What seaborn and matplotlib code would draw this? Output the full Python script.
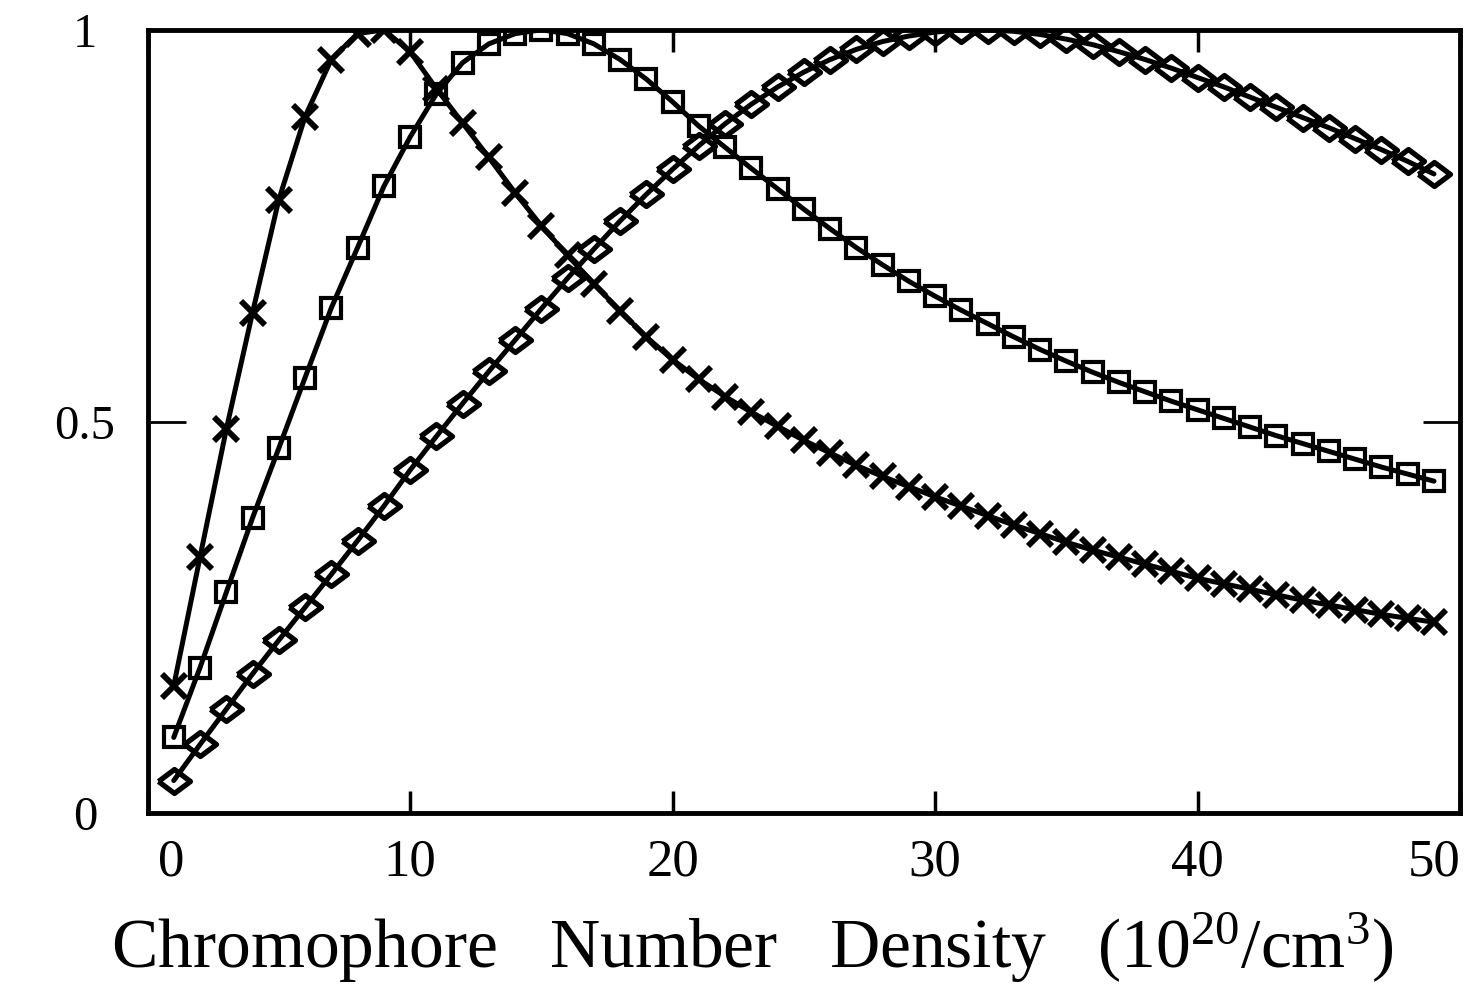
import numpy as np
import pandas as pd
import matplotlib
matplotlib.use("Agg")
import matplotlib.pyplot as plt
import matplotlib.transforms as mtransforms
import seaborn as sns

# ---------------- data ----------------
density = list(range(1, 50))

cross_vals = [0.163, 0.327, 0.490, 0.639, 0.783, 0.889, 0.962, 0.995, 1.000, 0.972,
              0.925, 0.881, 0.837, 0.792, 0.750, 0.712, 0.676, 0.641, 0.608, 0.579,
              0.554, 0.532, 0.512, 0.494, 0.476, 0.460, 0.444, 0.430, 0.417, 0.404,
              0.392, 0.380, 0.368, 0.357, 0.346, 0.336, 0.327, 0.318, 0.309, 0.300,
              0.293, 0.286, 0.279, 0.272, 0.266, 0.260, 0.254, 0.249, 0.244]

square_vals = [0.097, 0.186, 0.282, 0.377, 0.466, 0.556, 0.645, 0.722, 0.800, 0.863,
               0.918, 0.958, 0.982, 0.995, 1.000, 0.995, 0.982, 0.962, 0.937, 0.908,
               0.877, 0.850, 0.823, 0.797, 0.771, 0.746, 0.722, 0.700, 0.679, 0.660,
               0.642, 0.625, 0.608, 0.592, 0.577, 0.563, 0.550, 0.538, 0.526, 0.515,
               0.504, 0.493, 0.482, 0.472, 0.462, 0.452, 0.442, 0.433, 0.424]

diamond_vals = [0.042, 0.088, 0.133, 0.178, 0.221, 0.263, 0.305, 0.348, 0.392, 0.438,
                0.481, 0.523, 0.564, 0.604, 0.644, 0.683, 0.720, 0.756, 0.790, 0.822,
                0.852, 0.880, 0.905, 0.927, 0.946, 0.962, 0.975, 0.985, 0.992, 0.997,
                1.000, 1.000, 0.998, 0.994, 0.988, 0.981, 0.972, 0.962, 0.951, 0.939,
                0.927, 0.914, 0.901, 0.888, 0.875, 0.861, 0.847, 0.832, 0.816]

x_ticks = [0, 10, 20, 30, 40, 50]
x_tick_labels = ["0", "10", "20", "30", "40", "50"]
y_ticks = [0, 0.5, 1]
y_tick_labels = ["0", "0.5", "1"]
x_label = "Chromophore   Number   Density   (10$^{20}$/cm$^{3}$)"

# ---------------- style ----------------
sns.set_theme(style="white")
plt.rcParams['font.family'] = ['Liberation Serif', 'DejaVu Serif']
plt.rcParams['mathtext.fontset'] = 'custom'
plt.rcParams['mathtext.rm'] = 'Liberation Serif'
plt.rcParams['mathtext.it'] = 'Liberation Serif'

fig = plt.figure(figsize=(14.75, 9.92), dpi=100)
ax = fig.add_axes([0.100, 0.180, 0.890, 0.790])

df = pd.DataFrame({"x": density, "cross": cross_vals,
                   "square": square_vals, "diamond": diamond_vals})

diamond_marker = [(-1, 0), (0, 0.75), (1, 0), (0, -0.75), (-1, 0)]

common = dict(color="black", linewidth=3.6, legend=False, ax=ax,
              markerfacecolor="none", markeredgecolor="black")

sns.lineplot(data=df, x="x", y="cross", marker="x", markersize=17,
             markeredgewidth=4.2, **common)
sns.lineplot(data=df, x="x", y="square", marker="s", markersize=15,
             markeredgewidth=3.0, **common)
sns.lineplot(data=df, x="x", y="diamond", marker=diamond_marker, markersize=23,
             markeredgewidth=3.8, **common)

ax.set_xlim(0, 50)
ax.set_ylim(0, 1)

ax.set_xticks(x_ticks)
ax.set_xticklabels(x_tick_labels, fontsize=38)
ax.set_yticks(y_ticks)
ax.set_yticklabels(y_tick_labels, fontsize=35)

ax.tick_params(axis="x", which="both", direction="in", length=16, width=2.5,
               top=True, bottom=True, pad=18, colors="black")
ax.tick_params(axis="y", which="both", direction="in", length=27, width=2.0,
               left=True, right=True, pad=45, colors="black")

xl = ax.get_xticklabels()
xl[0].set_ha("left")
xl[0].set_transform(xl[0].get_transform() +
                    mtransforms.ScaledTranslation(10 / 100, 0, fig.dpi_scale_trans))
xl[-1].set_ha("right")
for lab in ax.get_yticklabels():
    lab.set_ha("center")

for sp in ax.spines.values():
    sp.set_visible(True)
    sp.set_color("black")
    sp.set_linewidth(3.5)

ax.set_xlabel("")
ax.set_ylabel("")
fig.text(0.510, 0.024, x_label, fontsize=50, ha="center", va="baseline",
         color="black")
ax.grid(False)

fig.savefig("out.png", dpi=100, facecolor="white")
